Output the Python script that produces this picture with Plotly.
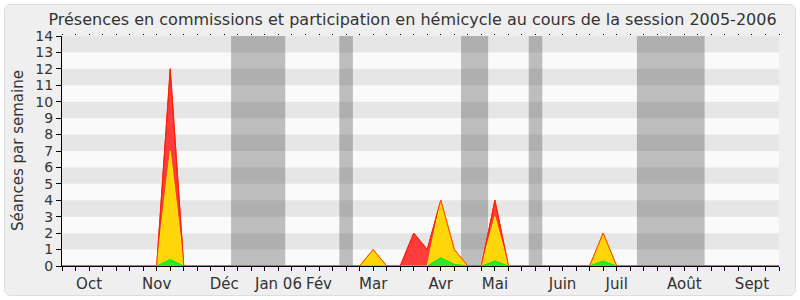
import plotly.graph_objects as go

# ---- data ----
weeks = list(range(0, 54))
month_labels = ["Oct", "Nov", "Déc", "Jan 06", "Fév", "Mar", "Avr", "Mai", "Juin", "Juil", "Août", "Sept"]
month_weeks = [2, 7, 12, 16, 19, 23, 28, 32, 37, 41, 46, 51]

# total sessions (red), hemicycle participation (yellow), long interventions (green)
red_pts = {8: 12, 23: 1, 26: 2, 27: 1, 28: 4, 29: 1, 32: 4, 40: 2}
yellow_pts = {8: 7, 23: 1, 28: 4, 29: 1, 32: 3, 40: 2}
green_pts = {8: 0.4, 28: 0.5, 29: 0.1, 32: 0.3, 40: 0.3}
red = [red_pts.get(w, 0) for w in weeks]
yellow = [yellow_pts.get(w, 0) for w in weeks]
green = [green_pts.get(w, 0) for w in weeks]

# vacation periods (week ranges)
vacations = [(12.5, 16.5), (20.5, 21.5), (29.5, 31.5), (34.5, 35.5), (42.5, 47.5)]

X_MAX = 53
Y_MAX = 14

fig = go.Figure()
fig.add_trace(go.Scatter(x=weeks, y=red, mode="lines", fill="tozeroy",
                         line=dict(color="#ff0000", width=1), fillcolor="rgba(255,45,45,0.92)",
                         hoverinfo="skip", showlegend=False))
fig.add_trace(go.Scatter(x=weeks, y=yellow, mode="lines", fill="tozeroy",
                         line=dict(color="#ffee00", width=1), fillcolor="#ffd60a",
                         hoverinfo="skip", showlegend=False))
fig.add_trace(go.Scatter(x=weeks, y=green, mode="lines", fill="tozeroy",
                         line=dict(color="#00ee00", width=1), fillcolor="#2ee82e",
                         hoverinfo="skip", showlegend=False))
# red outline drawn on top
fig.add_trace(go.Scatter(x=weeks, y=red, mode="lines",
                         line=dict(color="rgba(255,40,0,0.85)", width=1),
                         hoverinfo="skip", showlegend=False))
# invisible trace so the top (dotted tick) axis is rendered
fig.add_trace(go.Scatter(x=weeks, y=red, mode="lines", xaxis="x2", yaxis="y",
                         line=dict(width=0, color="rgba(0,0,0,0)"), hoverinfo="skip", showlegend=False))

shapes = []
# outer rounded frame (pixel -> paper)
L, R, T, B = 62, 779, 36, 266
W, H = R - L, B - T
def px(x): return (x - L) / W
def py(y): return (B - y) / H
x0, x1, y0, y1, r = 4.5, 795.5, 4.5, 295.5, 7
path = (f"M {px(x0+r)},{py(y0)} L {px(x1-r)},{py(y0)} Q {px(x1)},{py(y0)} {px(x1)},{py(y0+r)} "
        f"L {px(x1)},{py(y1-r)} Q {px(x1)},{py(y1)} {px(x1-r)},{py(y1)} "
        f"L {px(x0+r)},{py(y1)} Q {px(x0)},{py(y1)} {px(x0)},{py(y1-r)} "
        f"L {px(x0)},{py(y0+r)} Q {px(x0)},{py(y0)} {px(x0+r)},{py(y0)} Z")
shapes.append(dict(type="path", path=path, xref="paper", yref="paper",
                   fillcolor="#efefef", line=dict(color="#dddddd", width=1), layer="below"))
# plot background
shapes.append(dict(type="rect", xref="x", yref="y", x0=0, x1=X_MAX, y0=0, y1=Y_MAX,
                   fillcolor="#fafafa", line=dict(width=0), layer="below"))
# horizontal alternating bands
for k in range(1, Y_MAX, 2):
    shapes.append(dict(type="rect", xref="x", yref="y", x0=0, x1=X_MAX, y0=k, y1=k + 1,
                       fillcolor="#e6e6e6", line=dict(width=0), layer="below"))
# vacation bands
for a, b in vacations:
    shapes.append(dict(type="rect", xref="x", yref="y", x0=a, x1=b, y0=0, y1=Y_MAX,
                       fillcolor="rgba(50,50,50,0.3)", line=dict(width=0), layer="below"))

ticktext = [month_labels[month_weeks.index(w)] if w in month_weeks else "" for w in weeks]

fig.update_layout(
    width=800, height=300, autosize=False, showlegend=False,
    margin=dict(l=L, r=800 - R, t=T, b=300 - B, pad=0),
    paper_bgcolor="white", plot_bgcolor="#fafafa",
    font=dict(family="DejaVu Sans", size=14, color="#333333"),
    title=dict(text="Présences en commissions et participation en hémicycle au cours de la session 2005-2006",
               x=412.5 / 800, xanchor="center", xref="container",
               y=1 - 19 / 300, yanchor="middle", yref="container", automargin=False,
               font=dict(family="DejaVu Sans", size=16, color="#333333")),
    xaxis=dict(range=[0, X_MAX], tickmode="array", tickvals=weeks, ticktext=ticktext,
               ticks="outside", ticklen=4, tickcolor="black", showgrid=False, zeroline=False,
               showline=True, linecolor="black", linewidth=1, layer="above traces",
               automargin=False, tickfont=dict(size=15, color="#333333")),
    xaxis2=dict(range=[0, X_MAX], overlaying="x", side="top", anchor="y", tickmode="array",
                tickvals=weeks, ticks="outside", ticklen=1, tickcolor="black", automargin=False,
                showticklabels=False, showgrid=False, zeroline=False, showline=False),
    yaxis=dict(range=[0, Y_MAX], tickmode="array", tickvals=list(range(0, Y_MAX + 1)),
               ticks="outside", ticklen=5, tickcolor="black", showgrid=False, zeroline=False,
               showline=True, linecolor="black", linewidth=1, automargin=False,
               tickfont=dict(size=14, color="#333333")),
    shapes=shapes,
    annotations=[dict(text="Séances par semaine", textangle=-90, xref="paper", yref="paper",
                      x=px(18), y=py(151), xanchor="center", yanchor="middle", showarrow=False,
                      font=dict(family="DejaVu Sans", size=15, color="#333333"))],
)

fig.write_html("out.html")
